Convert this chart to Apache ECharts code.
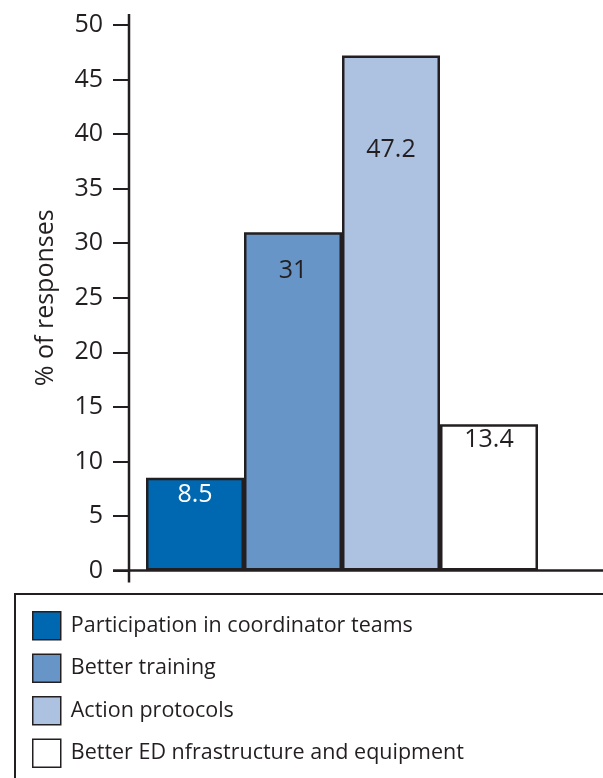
<!DOCTYPE html>
<html>
<head>
<meta charset="utf-8">
<script src="https://cdn.jsdelivr.net/npm/echarts@6/dist/echarts.min.js"></script>
<style>
  html, body { margin: 0; padding: 0; background: #ffffff; }
  #chart { width: 603px; height: 778px; }
</style>
</head>
<body>
<div id="chart"></div>
<script>
// Suggested improvements, share of responses (%)
const categories = [
  'Participation in coordinator teams',
  'Better training',
  'Action protocols',
  'Better ED nfrastructure and equipment'
];
const values = [8.5, 31, 47.2, 13.4];
const barColors = ['#0067b1', '#6895c8', '#adc1e1', '#ffffff'];
const labelColors = ['#ffffff', '#231f20', '#231f20', '#231f20'];
const labelDistances = [5, 26, 82, 3];
const yTicks = [0, 5, 10, 15, 20, 25, 30, 35, 40, 45, 50];

const ink = '#231f20';
const fontFamily = '"Open Sans", "Noto Sans", sans-serif';

const chart = echarts.init(document.getElementById('chart'), null, { renderer: 'canvas' });

// One series per category so each gets its own legend entry; they overlap
// on the shared category slots via barGap -100%.
const series = categories.map((name, i) => ({
  name: name,
  type: 'bar',
  barGap: '-100%',
  barCategoryGap: 0,
  data: categories.map((_, j) => (j === i ? values[i] : '-')),
  itemStyle: { color: barColors[i], borderColor: ink, borderWidth: 2.5 },
  label: {
    show: true,
    position: 'insideTop',
    distance: labelDistances[i],
    color: labelColors[i],
    fontFamily: fontFamily,
    fontSize: 25,
    formatter: p => String(p.value)
  },
  emphasis: { disabled: true },
  animation: false
}));

chart.setOption({
  animation: false,
  grid: { left: 146, right: 65, top: 25, bottom: 207.5 },
  xAxis: {
    type: 'category',
    data: categories,
    axisLine: { show: false },
    axisTick: { show: false },
    axisLabel: { show: false }
  },
  yAxis: {
    type: 'value',
    min: yTicks[0],
    max: yTicks[yTicks.length - 1],
    interval: 5,
    offset: 17,
    name: '% of responses',
    nameLocation: 'middle',
    nameGap: 71,
    nameTextStyle: { fontFamily: fontFamily, fontSize: 25, color: ink },
    axisLine: { show: false },
    axisTick: { show: true, length: 16, lineStyle: { color: ink, width: 2 } },
    axisLabel: { margin: 26, fontFamily: fontFamily, fontSize: 25, color: ink },
    splitLine: { show: false }
  },
  legend: {
    orient: 'vertical',
    left: 32,
    top: 611,
    height: 170,
    padding: 0,
    itemWidth: 28,
    itemHeight: 28,
    itemGap: 13,
    icon: 'rect',
    itemStyle: { borderColor: ink, borderWidth: 1.5 },
    textStyle: { fontFamily: fontFamily, fontSize: 21.5, color: ink, padding: [0, 0, 0, 5] },
    selectedMode: false,
    data: categories
  },
  series: series
});

// Axis lines run slightly past the plotting range, as in the printed figure.
const yZero = chart.convertToPixel({ yAxisIndex: 0 }, yTicks[0]);
const yTop = chart.convertToPixel({ yAxisIndex: 0 }, yTicks[yTicks.length - 1]);
const axisX = 129;
chart.setOption({
  graphic: [
    {
      type: 'line',
      shape: { x1: axisX, y1: yTop - 11, x2: axisX, y2: yZero + 12 },
      style: { stroke: ink, lineWidth: 2.5 },
      z: 10
    },
    {
      type: 'line',
      shape: { x1: axisX - 16, y1: yZero, x2: 603, y2: yZero },
      style: { stroke: ink, lineWidth: 2.5 },
      z: 10
    },
    {
      type: 'rect',
      shape: { x: 15, y: 594, width: 600, height: 200 },
      style: { fill: 'none', stroke: ink, lineWidth: 2 },
      z: 0
    }
  ]
});
</script>
</body>
</html>
